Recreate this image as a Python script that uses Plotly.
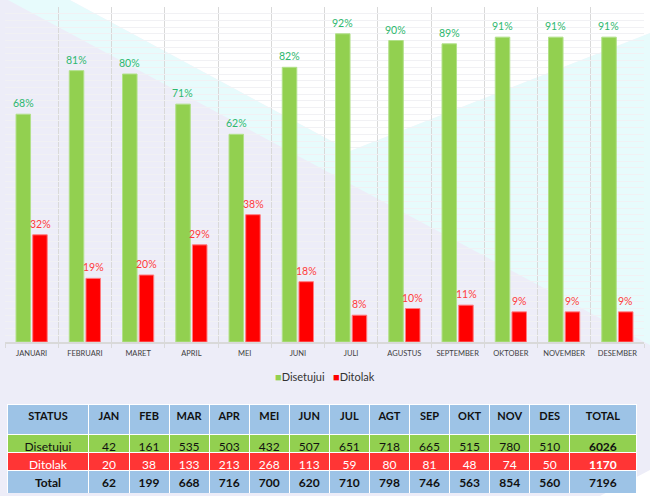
import plotly.graph_objects as go

months = ["JANUARI", "FEBRUARI", "MARET", "APRIL", "MEI", "JUNI", "JULI",
          "AGUSTUS", "SEPTEMBER", "OKTOBER", "NOVEMBER", "DESEMBER"]
pct_disetujui = [68, 81, 80, 71, 62, 82, 92, 90, 89, 91, 91, 91]
pct_ditolak = [32, 19, 20, 29, 38, 18, 8, 10, 11, 9, 9, 9]

months_short = ["JAN", "FEB", "MAR", "APR", "MEI", "JUN", "JUL",
                "AGT", "SEP", "OKT", "NOV", "DES"]
n_disetujui = [42, 161, 535, 503, 432, 507, 651, 718, 665, 515, 780, 510]
n_ditolak = [20, 38, 133, 213, 268, 113, 59, 80, 81, 48, 74, 50]
n_total = [62, 199, 668, 716, 700, 620, 710, 798, 746, 563, 854, 560]
sum_disetujui = 6026
sum_ditolak = 1170
sum_total = 7196

GREEN = "#92D050"
RED = "#FF0000"
BLUE = "#9DC3E6"
ROW_RED = "#FF3535"
LAVENDER = "#EDEDF8"
CYAN = "#E7FBFC"
FONT = "Lato"

W, H = 650, 496
ML, MR, MT, MB = 5, 6, 7, 3


def px(x, y):
    # pixel -> paper coords
    return (x - ML) / (W - ML - MR), (H - MB - y) / (H - MT - MB)


def poly(points, color):
    path = ""
    for i, (x, y) in enumerate(points):
        a, b = px(x, y)
        path += ("M" if i == 0 else "L") + f"{a:.4f},{b:.4f} "
    return dict(type="path", path=path + "Z", xref="paper", yref="paper",
                fillcolor=color, line_width=0, layer="below")


fig = go.Figure()

fig.add_trace(go.Bar(
    x=months, y=pct_disetujui, name="Disetujui",
    marker=dict(color=GREEN, line=dict(color="#B2E08A", width=1))))
fig.add_trace(go.Bar(
    x=months, y=pct_ditolak, name="Ditolak",
    marker=dict(color=RED, line=dict(color="#FF7C80", width=1))))

# percentage labels above the bars (shifted onto each bar of the group)
labels = []
for vals, color, dx in [(pct_disetujui, "#2DB86E", -8.4), (pct_ditolak, "#FF3B3B", 8.4)]:
    for m, v in zip(months, vals):
        labels.append(dict(x=m, y=v, xref="x", yref="y", text=f"{v}%",
                           showarrow=False, xshift=dx, yshift=11,
                           yanchor="middle",
                           font=dict(size=10.5, color=color, family=FONT)))

# table: header + two status rows
cols = [["Disetujui", "Ditolak"]]
for a, b in zip(n_disetujui, n_ditolak):
    cols.append([a, b])
cols.append([sum_disetujui, sum_ditolak])
ncol = len(cols)
colw = [82] + [40.1] * 12 + [66.3]
weights = [400] * (ncol - 1) + [700]

tx0, _ = px(7, 0)
tx1, _ = px(637, 0)
_, ty_top = px(0, 404)
_, ty_mid = px(0, 470)

fig.add_trace(go.Table(
    domain=dict(x=[tx0, tx1], y=[ty_mid, ty_top]),
    columnwidth=colw,
    header=dict(values=["STATUS"] + months_short + ["TOTAL"],
                fill_color=BLUE, line=dict(color="white", width=1),
                font=dict(family=FONT, size=11, color="#111111", weight="bold"),
                align="center", height=30),
    cells=dict(values=cols,
               fill_color=[[GREEN, ROW_RED]] * ncol,
               line=dict(color="white", width=1),
               font=dict(family=FONT, size=12, weight=weights,
                         color=[["#111111", "white"]] * ncol),
               align="center", height=18)))

fig.add_trace(go.Table(
    domain=dict(x=[tx0, tx1], y=[0, ty_mid]),
    columnwidth=colw,
    header=dict(values=["Total"] + n_total + [sum_total],
                fill_color=BLUE, line=dict(color="white", width=1),
                font=dict(family=FONT, size=12, color="#111111", weight="bold"),
                align="center", height=24),
    cells=dict(values=[[] for _ in range(ncol)], height=1)))

_, yd0 = px(0, 342)
lx, ly = px(325, 376)

legend_text = (f"<span style='color:{GREEN}'>■</span>Disetujui   "
               f"<span style='color:{RED}'>■</span>Ditolak")

fig.update_layout(
    width=W, height=H,
    margin=dict(l=ML, r=MR, t=MT, b=MB),
    paper_bgcolor=LAVENDER, plot_bgcolor="rgba(0,0,0,0)",
    barmode="group", bargap=0.373, bargroupgap=0.13,
    font=dict(family=FONT, color="#404040"),
    showlegend=False,
    xaxis=dict(type="category", tickson="boundaries", showgrid=True,
               gridcolor="#D9D9D9", gridwidth=1, showline=True,
               linecolor="#D9D9D9", linewidth=1.5, ticks="outside",
               ticklen=4, tickcolor="#D9D9D9", automargin=False,
               ticklabelstandoff=3,
               tickfont=dict(size=7.5, color="#404040")),
    yaxis=dict(domain=[yd0, 1], range=[0, 100], dtick=2, showgrid=True,
               gridcolor="#F1F1F4", gridwidth=1, showticklabels=False,
               zeroline=False, fixedrange=True, automargin=False),
    annotations=labels + [dict(
        xref="paper", yref="paper", x=lx, y=ly, showarrow=False,
        xanchor="center", yanchor="middle",
        font=dict(size=11, color="#333333", family=FONT),
        text=legend_text)],
    shapes=[
        poly([(8, 0), (70, 0), (350, 151), (650, 33), (650, 345)], CYAN),
        poly([(70, 0), (650, 0), (650, 33), (350, 151)], "white"),
        poly([(600, 496), (650, 470), (650, 496)], "white"),
    ],
)

fig.write_html("out.html", config={"displayModeBar": False},
               post_script="document.body.style.margin='0';")
